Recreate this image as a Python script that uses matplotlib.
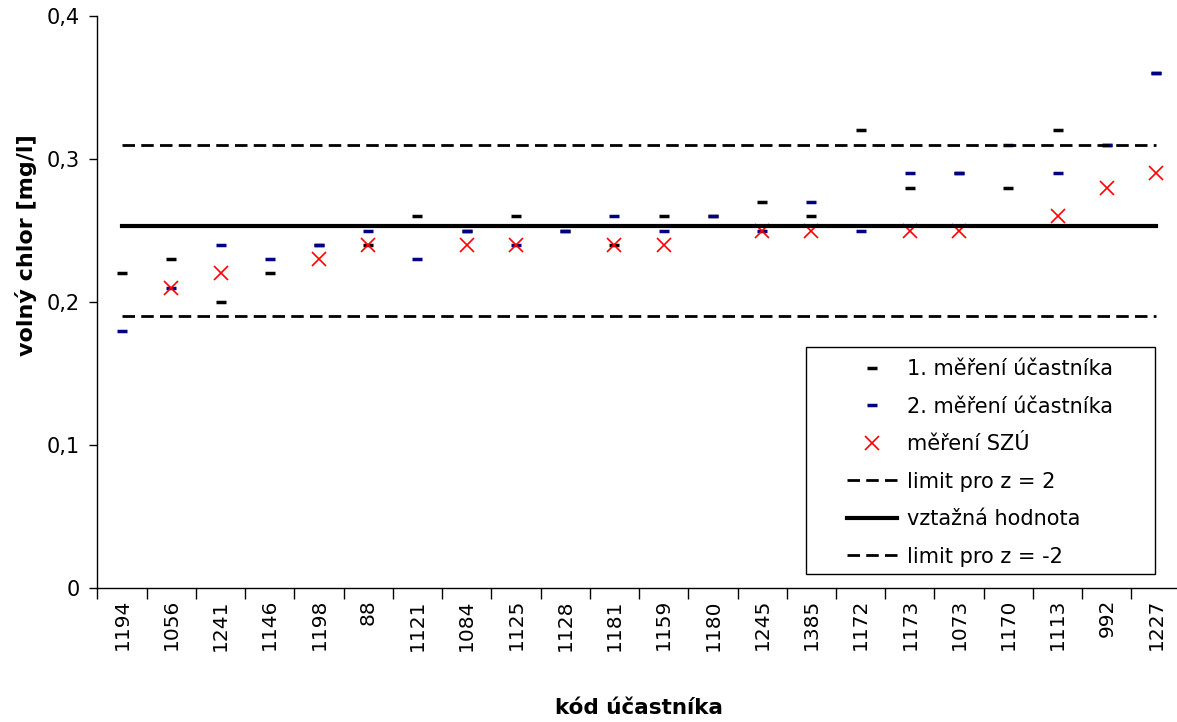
import numpy as np
import matplotlib
matplotlib.use('Agg')
from matplotlib import pyplot as plt
from matplotlib.patches import Rectangle

nan = np.nan

kody = ['1194', '1056', '1241', '1146', '1198', '88', '1121', '1084', '1125',
        '1128', '1181', '1159', '1180', '1245', '1385', '1172', '1173', '1073',
        '1170', '1113', '992', '1227']
mereni_1 = [0.22, 0.23, 0.20, 0.22, 0.24, 0.24, 0.26, 0.25, 0.26, 0.25, 0.24,
            0.26, 0.26, 0.27, 0.26, 0.32, 0.28, 0.29, 0.28, 0.32, 0.31, 0.36]
mereni_2 = [0.18, 0.21, 0.24, 0.23, 0.24, 0.25, 0.23, 0.25, 0.24, 0.25, 0.26,
            0.25, 0.26, 0.25, 0.27, 0.25, 0.29, 0.29, 0.31, 0.29, 0.31, 0.36]
mereni_szu = [nan, 0.21, 0.22, nan, 0.23, 0.24, nan, 0.24, 0.24, nan, 0.24,
              0.24, nan, 0.25, 0.25, nan, 0.25, 0.25, nan, 0.26, 0.28, 0.29]
vztazna = 0.253
limit_horni = 0.31
limit_dolni = 0.19
y_ticks = [0, 0.1, 0.2, 0.3, 0.4]
y_labels = ['0', '0,1', '0,2', '0,3', '0,4']

plt.rcParams['font.family'] = ['DejaVu Sans']

fig = plt.figure(figsize=(11.77, 7.22), dpi=100)
ax = fig.add_axes([0.0828, 0.1856, 0.9203, 0.7922])

x = np.arange(len(kody))
n = len(kody)

ax.plot(x, mereni_1, linestyle='none', marker='_', markersize=7.5,
        markeredgewidth=2.5, color='black', label='1. měření účastníka')
ax.plot(x, mereni_2, linestyle='none', marker='_', markersize=7.5,
        markeredgewidth=2.5, color='#000080', label='2. měření účastníka')
ax.plot(x, mereni_szu, linestyle='none', marker='x', markersize=10,
        markeredgewidth=1.2, color='red', label='měření SZÚ')
ax.plot(x, [limit_horni] * n, color='black', linewidth=2,
        dashes=(4.5, 2.25), label='limit pro z = 2')
ax.plot(x, [vztazna] * n, color='black', linewidth=3,
        label='vztažná hodnota')
ax.plot(x, [limit_dolni] * n, color='black', linewidth=2,
        dashes=(4.5, 2.25), label='limit pro z = -2')

ax.set_xlim(-0.5, n - 0.5)
ax.set_ylim(0, 0.4)

ax.set_yticks(y_ticks)
ax.set_yticklabels(y_labels, fontsize=15)
ax.tick_params(axis='y', direction='out', length=6, width=1, pad=7)

ax.set_xticks(x)
ax.set_xticklabels(kody, rotation=90, fontsize=14.5)
ax.tick_params(axis='x', which='major', length=0, pad=8)
ax.set_xticks(np.arange(n + 1) - 0.5, minor=True)
ax.tick_params(axis='x', which='minor', direction='out', length=8, width=1)

for side in ['top', 'right']:
    ax.spines[side].set_visible(False)
for side in ['left', 'bottom']:
    ax.spines[side].set_linewidth(1)

ax.set_ylabel('volný chlor [mg/l]', fontsize=16, fontweight='bold')
ax.yaxis.set_label_coords(-0.0555, 0.6)
ax.set_xlabel('kód účastníka', fontsize=15.5, fontweight='bold')
ax.xaxis.set_label_coords(0.5, -0.193)

# legenda bez ramecku, ramecek zvlast
ax.add_patch(Rectangle((0.654, 0.0245), 0.3222, 0.3968, transform=ax.transAxes,
                       facecolor='white', edgecolor='black', linewidth=1,
                       zorder=4))
leg = ax.legend(loc='upper left', bbox_to_anchor=(0.692, 0.400),
                fontsize=15, frameon=False, borderpad=0, labelspacing=0.84,
                handlelength=2.4, handletextpad=0.5, borderaxespad=0)
leg.set_zorder(5)

fig.savefig('out.png', dpi=100, facecolor='white')
